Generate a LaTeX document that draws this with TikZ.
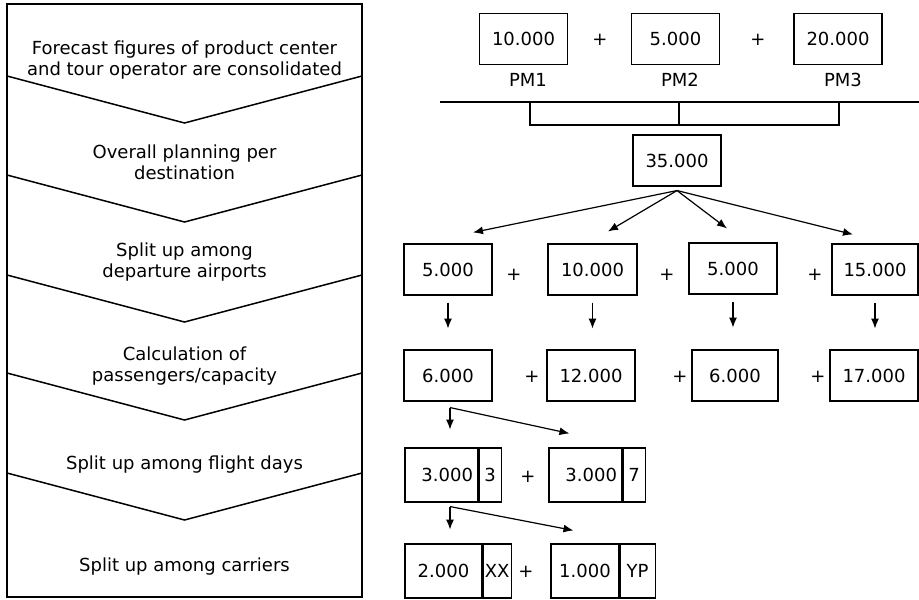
\documentclass[tikz,border=0pt]{standalone}
\usepackage{fontspec}
\setmainfont{DejaVu Sans}
\usetikzlibrary{arrows.meta,calc}
\tikzset{
  frame/.style={line width=1.5pt},
  phase/.style={align=center, font=\fontsize{18}{21}\selectfont},
  num/.style={draw, line width=1.1pt, minimum width=88, minimum height=51, inner sep=0pt, font=\fontsize{18}{21}\selectfont},
  valr/.style={num, text width=63, align=right},
  code/.style={num, anchor=west},
  lbl/.style={inner sep=0pt, font=\fontsize{18}{21}\selectfont},
  arr/.style={-{Latex[length=10pt,width=8pt]}, line width=1.2pt},
  rule/.style={line width=1.2pt},
}
\begin{document}
\begin{tikzpicture}[x=1pt,y=-1pt]
\useasboundingbox (0,0) rectangle (919,600);
% planning steps
\draw[frame] (7,4) rectangle (362,597);
\foreach \y in {76,175,275,373,473}
  \draw[frame] (7,\y) -- (184.5,\y+47) -- (362,\y);
\node[phase] (t1) at (184.5,60) {Forecast figures of product center\\and tour operator are consolidated};
\node[phase] (t2) at (184.5,162) {Overall planning per\\destination};
\node[phase] (t3) at (184.5,262) {Split up among\\departure airports};
\node[phase] (t4) at (184.5,366) {Calculation of\\passengers/capacity};
\node[phase] (t5) at (184.5,465) {Split up among flight days};
\node[phase] (t6) at (184.5,567) {Split up among carriers};
% product managers
\node[num] (pm1) at (523.5,39) {10.000};
\node[num] (pm2) at (675.5,39) {5.000};
\node[num] (pm3) at (838,39) {20.000};
\node[lbl] (p1) at (600,40) {+};
\node[lbl] (p2) at (758,40) {+};
\node[lbl] (n1) at (528,80) {PM1};
\node[lbl] (n2) at (680,80) {PM2};
\node[lbl] (n3) at (843,80) {PM3};
\draw[rule] (440,102) -- (919,102);
\draw[rule] (530,102) -- (530,125) -- (839,125) -- (839,102);
\draw[rule] (679,102) -- (679,125);
\node[num] (tot) at (677,160.5) {35.000};
% departure airports
\node[num] (a2) at (448,269.5) {5.000};
\node[num, minimum width=89] (b2) at (592.5,269.5) {10.000};
\node[num] (c2) at (733,268.5) {5.000};
\node[num, minimum width=86] (d2) at (875,269.5) {15.000};
\node[lbl] (q1) at (514,275) {+};
\node[lbl] (q2) at (667,275) {+};
\node[lbl] (q3) at (815,275) {+};
\coordinate (fan) at ($(tot.south)+(0,4)$);
\draw[arr] (fan) -- ($(a2.north)+(25,-11)$);
\draw[arr] (fan) -- ($(b2.north)+(15.5,-12)$);
\draw[arr] (fan) -- ($(c2.north)+(-6,-14)$);
\draw[arr] (fan) -- ($(d2.north)+(-22,-9)$);
% passengers/capacity
\node[num] (a3) at (448,375.5) {6.000};
\node[num] (b3) at (591,375.5) {12.000};
\node[num, minimum width=86] (c3) at (735,375.5) {6.000};
\node[num] (d3) at (874,375.5) {17.000};
\node[lbl] (r1) at (532,377) {+};
\node[lbl] (r2) at (680,377) {+};
\node[lbl] (r3) at (818,377) {+};
\foreach \n in {a,b,c,d}
  \draw[arr] ($(\n2.south)+(0,7)$) -- ($(\n2.south)+(0,33)$);
% flight days
\node[valr, minimum width=73, minimum height=54] (a4) at (441.5,475) {3.000};
\node[code, minimum width=22, minimum height=54] (a4c) at (a4.east) {3};
\node[valr, minimum width=73, minimum height=54] (b4) at (585.5,475) {3.000};
\node[code, minimum width=22, minimum height=54] (b4c) at (b4.east) {7};
\node[lbl] (s1) at (528,477) {+};
\coordinate (j1) at ($(a3.south)+(2,6)$);
\draw[arr] (j1) -- ++(0,22);
\draw[arr] (j1) -- ($(b4.north west)+(21,-14)$);
% carriers
\node[num, minimum width=77, minimum height=54] (a5) at (443.5,571) {2.000};
\node[code, minimum width=28, minimum height=54] (a5c) at (a5.east) {XX};
\node[num, minimum width=68, minimum height=54] (b5) at (585,571) {1.000};
\node[code, minimum width=35, minimum height=54] (b5c) at (b5.east) {YP};
\node[lbl] (s2) at (526,572) {+};
\coordinate (j2) at ($(a4.south)+(8.5,4)$);
\draw[arr] (j2) -- ++(0,23);
\draw[arr] (j2) -- ($(b5.north west)+(23,-13)$);
\end{tikzpicture}
\end{document}
